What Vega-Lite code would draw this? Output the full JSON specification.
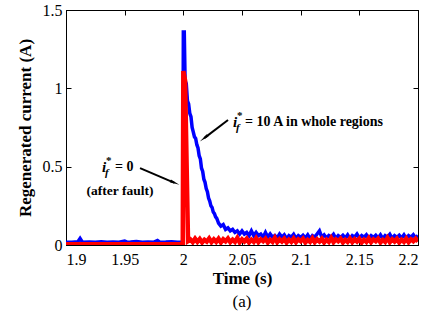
{
  "$schema": "https://vega.github.io/schema/vega-lite/v6.json",
  "width": 352,
  "height": 235,
  "autosize": {"type": "none"},
  "padding": {"left": 66, "top": 10, "right": 14, "bottom": 75},
  "background": "white",
  "title": {"text": "(a)", "orient": "bottom", "font": "Liberation Serif", "fontSize": 17, "fontWeight": "normal", "offset": 8, "color": "black"},
  "config": {
    "view": {"stroke": "black", "strokeWidth": 1},
    "axis": {"grid": false, "domainColor": "black", "tickColor": "black", "labelColor": "black", "titleColor": "black", "labelFont": "Liberation Serif", "titleFont": "Liberation Serif", "labelFontSize": 16, "titleFontSize": 17, "titleFontWeight": "bold", "tickSize": -5, "tickWidth": 1, "domainWidth": 1}
  },
  "datasets": {
    "blue": [
      {"t": 1.9, "v": 0.018}, {"t": 1.905, "v": 0.018}, {"t": 1.91, "v": 0.02}, {"t": 1.912, "v": 0.042}, {"t": 1.914, "v": 0.018},
      {"t": 1.92, "v": 0.019}, {"t": 1.925, "v": 0.018}, {"t": 1.93, "v": 0.02}, {"t": 1.935, "v": 0.018}, {"t": 1.94, "v": 0.019},
      {"t": 1.945, "v": 0.018}, {"t": 1.95, "v": 0.025}, {"t": 1.952, "v": 0.018}, {"t": 1.955, "v": 0.019}, {"t": 1.96, "v": 0.023},
      {"t": 1.965, "v": 0.018}, {"t": 1.97, "v": 0.019}, {"t": 1.975, "v": 0.018}, {"t": 1.978, "v": 0.028}, {"t": 1.98, "v": 0.018},
      {"t": 1.985, "v": 0.019}, {"t": 1.99, "v": 0.021}, {"t": 1.995, "v": 0.018}, {"t": 1.9995, "v": 0.018},
      {"t": 2.0, "v": 1.36}, {"t": 2.0008, "v": 1.36}, {"t": 2.0015, "v": 1.05}, {"t": 2.0025, "v": 1.03}, {"t": 2.0035, "v": 0.92},
      {"t": 2.0045, "v": 0.9}, {"t": 2.0055, "v": 0.84}, {"t": 2.0065, "v": 0.82}, {"t": 2.0075, "v": 0.75}, {"t": 2.0085, "v": 0.72},
      {"t": 2.0095, "v": 0.69}, {"t": 2.0105, "v": 0.68}, {"t": 2.0115, "v": 0.64}, {"t": 2.0125, "v": 0.62}, {"t": 2.0135, "v": 0.57},
      {"t": 2.0145, "v": 0.55}, {"t": 2.0155, "v": 0.49}, {"t": 2.0165, "v": 0.47}, {"t": 2.0175, "v": 0.42}, {"t": 2.0185, "v": 0.4},
      {"t": 2.0195, "v": 0.36}, {"t": 2.0205, "v": 0.34}, {"t": 2.0215, "v": 0.3}, {"t": 2.0225, "v": 0.28}, {"t": 2.0235, "v": 0.25},
      {"t": 2.0245, "v": 0.24}, {"t": 2.0255, "v": 0.21}, {"t": 2.0265, "v": 0.2}, {"t": 2.0275, "v": 0.18}, {"t": 2.0285, "v": 0.17},
      {"t": 2.0295, "v": 0.15}, {"t": 2.03, "v": 0.14}, {"t": 2.032, "v": 0.12}, {"t": 2.034, "v": 0.13}, {"t": 2.036, "v": 0.1},
      {"t": 2.038, "v": 0.11}, {"t": 2.04, "v": 0.09}, {"t": 2.042, "v": 0.1}, {"t": 2.044, "v": 0.08}, {"t": 2.046, "v": 0.09},
      {"t": 2.048, "v": 0.07}, {"t": 2.05, "v": 0.09}, {"t": 2.052, "v": 0.07}, {"t": 2.054, "v": 0.08}, {"t": 2.056, "v": 0.06},
      {"t": 2.058, "v": 0.09}, {"t": 2.06, "v": 0.06}, {"t": 2.062, "v": 0.08}, {"t": 2.064, "v": 0.06}, {"t": 2.066, "v": 0.07},
      {"t": 2.068, "v": 0.05}, {"t": 2.07, "v": 0.08}, {"t": 2.072, "v": 0.05}, {"t": 2.074, "v": 0.07}, {"t": 2.076, "v": 0.05},
      {"t": 2.078, "v": 0.06}, {"t": 2.08, "v": 0.045}, {"t": 2.082, "v": 0.07}, {"t": 2.084, "v": 0.05}, {"t": 2.086, "v": 0.065},
      {"t": 2.088, "v": 0.04}, {"t": 2.09, "v": 0.06}, {"t": 2.092, "v": 0.05}, {"t": 2.094, "v": 0.068}, {"t": 2.096, "v": 0.042},
      {"t": 2.098, "v": 0.06}, {"t": 2.1, "v": 0.048}, {"t": 2.102, "v": 0.062}, {"t": 2.104, "v": 0.045}, {"t": 2.106, "v": 0.065},
      {"t": 2.108, "v": 0.04}, {"t": 2.11, "v": 0.06}, {"t": 2.112, "v": 0.05}, {"t": 2.114, "v": 0.07}, {"t": 2.116, "v": 0.09},
      {"t": 2.118, "v": 0.05}, {"t": 2.12, "v": 0.065}, {"t": 2.122, "v": 0.045}, {"t": 2.124, "v": 0.06}, {"t": 2.126, "v": 0.05},
      {"t": 2.128, "v": 0.068}, {"t": 2.13, "v": 0.042}, {"t": 2.132, "v": 0.06}, {"t": 2.134, "v": 0.048}, {"t": 2.136, "v": 0.062},
      {"t": 2.138, "v": 0.045}, {"t": 2.14, "v": 0.065}, {"t": 2.142, "v": 0.04}, {"t": 2.144, "v": 0.06}, {"t": 2.146, "v": 0.05},
      {"t": 2.148, "v": 0.07}, {"t": 2.15, "v": 0.045}, {"t": 2.152, "v": 0.06}, {"t": 2.154, "v": 0.05}, {"t": 2.156, "v": 0.065},
      {"t": 2.158, "v": 0.042}, {"t": 2.16, "v": 0.06}, {"t": 2.162, "v": 0.048}, {"t": 2.164, "v": 0.062}, {"t": 2.166, "v": 0.045},
      {"t": 2.168, "v": 0.065}, {"t": 2.17, "v": 0.04}, {"t": 2.172, "v": 0.06}, {"t": 2.174, "v": 0.05}, {"t": 2.176, "v": 0.068},
      {"t": 2.178, "v": 0.042}, {"t": 2.18, "v": 0.06}, {"t": 2.182, "v": 0.048}, {"t": 2.184, "v": 0.062}, {"t": 2.186, "v": 0.045},
      {"t": 2.188, "v": 0.065}, {"t": 2.19, "v": 0.04}, {"t": 2.192, "v": 0.06}, {"t": 2.194, "v": 0.05}, {"t": 2.196, "v": 0.066},
      {"t": 2.198, "v": 0.045}, {"t": 2.2, "v": 0.06}
    ],
    "red": [
      {"t": 1.9, "v": 0.004}, {"t": 1.95, "v": 0.004}, {"t": 1.9995, "v": 0.004},
      {"t": 2.0, "v": 1.11}, {"t": 2.0015, "v": 1.05}, {"t": 2.004, "v": 0.025},
      {"t": 2.006, "v": 0.035}, {"t": 2.008, "v": 0.018}, {"t": 2.01, "v": 0.04}, {"t": 2.012, "v": 0.02}, {"t": 2.014, "v": 0.038},
      {"t": 2.016, "v": 0.016}, {"t": 2.018, "v": 0.033}, {"t": 2.02, "v": 0.022}, {"t": 2.022, "v": 0.042}, {"t": 2.024, "v": 0.018},
      {"t": 2.026, "v": 0.036}, {"t": 2.028, "v": 0.02}, {"t": 2.03, "v": 0.04}, {"t": 2.032, "v": 0.016}, {"t": 2.034, "v": 0.037},
      {"t": 2.036, "v": 0.024}, {"t": 2.038, "v": 0.041}, {"t": 2.04, "v": 0.018}, {"t": 2.042, "v": 0.034}, {"t": 2.044, "v": 0.02},
      {"t": 2.046, "v": 0.045}, {"t": 2.048, "v": 0.017}, {"t": 2.05, "v": 0.036}, {"t": 2.052, "v": 0.022}, {"t": 2.054, "v": 0.04},
      {"t": 2.056, "v": 0.016}, {"t": 2.058, "v": 0.034}, {"t": 2.06, "v": 0.02}, {"t": 2.062, "v": 0.043}, {"t": 2.064, "v": 0.018},
      {"t": 2.066, "v": 0.036}, {"t": 2.068, "v": 0.024}, {"t": 2.07, "v": 0.04}, {"t": 2.072, "v": 0.016}, {"t": 2.074, "v": 0.033},
      {"t": 2.076, "v": 0.02}, {"t": 2.078, "v": 0.046}, {"t": 2.08, "v": 0.018}, {"t": 2.082, "v": 0.036}, {"t": 2.084, "v": 0.022},
      {"t": 2.086, "v": 0.04}, {"t": 2.088, "v": 0.016}, {"t": 2.09, "v": 0.034}, {"t": 2.092, "v": 0.02}, {"t": 2.094, "v": 0.041},
      {"t": 2.096, "v": 0.018}, {"t": 2.098, "v": 0.036}, {"t": 2.1, "v": 0.024}, {"t": 2.102, "v": 0.04}, {"t": 2.104, "v": 0.016},
      {"t": 2.106, "v": 0.033}, {"t": 2.108, "v": 0.02}, {"t": 2.11, "v": 0.043}, {"t": 2.112, "v": 0.018}, {"t": 2.114, "v": 0.036},
      {"t": 2.116, "v": 0.022}, {"t": 2.118, "v": 0.04}, {"t": 2.12, "v": 0.016}, {"t": 2.122, "v": 0.034}, {"t": 2.124, "v": 0.02},
      {"t": 2.126, "v": 0.045}, {"t": 2.128, "v": 0.018}, {"t": 2.13, "v": 0.036}, {"t": 2.132, "v": 0.024}, {"t": 2.134, "v": 0.04},
      {"t": 2.136, "v": 0.016}, {"t": 2.138, "v": 0.033}, {"t": 2.14, "v": 0.02}, {"t": 2.142, "v": 0.041}, {"t": 2.144, "v": 0.018},
      {"t": 2.146, "v": 0.036}, {"t": 2.148, "v": 0.022}, {"t": 2.15, "v": 0.04}, {"t": 2.152, "v": 0.016}, {"t": 2.154, "v": 0.034},
      {"t": 2.156, "v": 0.02}, {"t": 2.158, "v": 0.043}, {"t": 2.16, "v": 0.018}, {"t": 2.162, "v": 0.036}, {"t": 2.164, "v": 0.024},
      {"t": 2.166, "v": 0.04}, {"t": 2.168, "v": 0.016}, {"t": 2.17, "v": 0.033}, {"t": 2.172, "v": 0.02}, {"t": 2.174, "v": 0.045},
      {"t": 2.176, "v": 0.018}, {"t": 2.178, "v": 0.036}, {"t": 2.18, "v": 0.022}, {"t": 2.182, "v": 0.04}, {"t": 2.184, "v": 0.016},
      {"t": 2.186, "v": 0.034}, {"t": 2.188, "v": 0.02}, {"t": 2.19, "v": 0.041}, {"t": 2.192, "v": 0.018}, {"t": 2.194, "v": 0.036},
      {"t": 2.196, "v": 0.024}, {"t": 2.198, "v": 0.04}, {"t": 2.2, "v": 0.022}
    ]
  },
  "layer": [
    {
      "data": {"name": "blue"},
      "mark": {"type": "line", "color": "#0000FF", "strokeWidth": 3.5, "clip": true},
      "encoding": {
        "x": {"field": "t", "type": "quantitative", "scale": {"domain": [1.9, 2.2], "nice": false, "zero": false},
              "axis": {"orient": "bottom", "values": [1.9, 1.95, 2, 2.05, 2.1, 2.15, 2.2], "format": "~g", "labelPadding": 11, "title": "Time (s)", "titlePadding": 3}},
        "y": {"field": "v", "type": "quantitative", "scale": {"domain": [0, 1.5], "nice": false},
              "axis": {"orient": "left", "values": [0, 0.5, 1, 1.5], "format": "~g", "labelPadding": 9, "title": "Regenerated current (A)", "titlePadding": 8}}
      }
    },
    {
      "data": {"name": "red"},
      "mark": {"type": "line", "color": "#FF0000", "strokeWidth": 4.5, "clip": true},
      "encoding": {
        "x": {"field": "t", "type": "quantitative", "axis": {"orient": "top", "values": [1.9, 1.95, 2, 2.05, 2.1, 2.15, 2.2], "labels": false, "title": null}},
        "y": {"field": "v", "type": "quantitative", "axis": {"orient": "right", "values": [0, 0.5, 1, 1.5], "labels": false, "title": null}}
      }
    },
    {
      "data": {"values": [{}]},
      "mark": {"type": "rule", "color": "black", "strokeWidth": 2},
      "encoding": {"x": {"datum": 2.0381, "axis": null}, "y": {"datum": 0.798, "axis": null}, "x2": {"datum": 2.0178}, "y2": {"datum": 0.682}}
    },
    {
      "data": {"values": [{}]},
      "mark": {"type": "point", "shape": "wedge", "filled": true, "color": "black", "opacity": 1, "size": 130, "angle": 232},
      "encoding": {"x": {"datum": 2.0185, "axis": null}, "y": {"datum": 0.687, "axis": null}}
    },
    {
      "data": {"values": [{}]},
      "mark": {"type": "rule", "color": "black", "strokeWidth": 2},
      "encoding": {"x": {"datum": 1.9631, "axis": null}, "y": {"datum": 0.491, "axis": null}, "x2": {"datum": 1.9925}, "y2": {"datum": 0.397}}
    },
    {
      "data": {"values": [{}]},
      "mark": {"type": "point", "shape": "wedge", "filled": true, "color": "black", "opacity": 1, "size": 130, "angle": 114},
      "encoding": {"x": {"datum": 1.9915, "axis": null}, "y": {"datum": 0.401, "axis": null}}
    },
    {
      "data": {"values": [{}]},
      "mark": {"type": "text", "text": "i", "font": "Liberation Serif", "fontSize": 15, "fontStyle": "italic", "fontWeight": "bold", "align": "left", "baseline": "middle", "color": "black"},
      "encoding": {"x": {"datum": 2.0423, "axis": null}, "y": {"datum": 0.785, "axis": null}}
    },
    {
      "data": {"values": [{}]},
      "mark": {"type": "text", "text": "*", "font": "Liberation Serif", "fontSize": 11, "fontWeight": "bold", "align": "left", "baseline": "middle", "dx": 4, "dy": -6, "color": "black"},
      "encoding": {"x": {"datum": 2.0423, "axis": null}, "y": {"datum": 0.785, "axis": null}}
    },
    {
      "data": {"values": [{}]},
      "mark": {"type": "text", "text": "f", "font": "Liberation Serif", "fontSize": 11, "fontStyle": "italic", "fontWeight": "bold", "align": "left", "baseline": "middle", "dx": 3, "dy": 6, "color": "black"},
      "encoding": {"x": {"datum": 2.0423, "axis": null}, "y": {"datum": 0.785, "axis": null}}
    },
    {
      "data": {"values": [{}]},
      "mark": {"type": "text", "text": "= 10 A in whole regions", "font": "Liberation Serif", "fontSize": 14, "fontWeight": "bold", "align": "left", "baseline": "middle", "dx": 12, "color": "black"},
      "encoding": {"x": {"datum": 2.0423, "axis": null}, "y": {"datum": 0.785, "axis": null}}
    },
    {
      "data": {"values": [{}]},
      "mark": {"type": "text", "text": "i", "font": "Liberation Serif", "fontSize": 15, "fontStyle": "italic", "fontWeight": "bold", "align": "left", "baseline": "middle", "color": "black"},
      "encoding": {"x": {"datum": 1.9307, "axis": null}, "y": {"datum": 0.498, "axis": null}}
    },
    {
      "data": {"values": [{}]},
      "mark": {"type": "text", "text": "*", "font": "Liberation Serif", "fontSize": 11, "fontWeight": "bold", "align": "left", "baseline": "middle", "dx": 4, "dy": -6, "color": "black"},
      "encoding": {"x": {"datum": 1.9307, "axis": null}, "y": {"datum": 0.498, "axis": null}}
    },
    {
      "data": {"values": [{}]},
      "mark": {"type": "text", "text": "f", "font": "Liberation Serif", "fontSize": 11, "fontStyle": "italic", "fontWeight": "bold", "align": "left", "baseline": "middle", "dx": 3, "dy": 6, "color": "black"},
      "encoding": {"x": {"datum": 1.9307, "axis": null}, "y": {"datum": 0.498, "axis": null}}
    },
    {
      "data": {"values": [{}]},
      "mark": {"type": "text", "text": "= 0", "font": "Liberation Serif", "fontSize": 14, "fontWeight": "bold", "align": "left", "baseline": "middle", "dx": 13, "color": "black"},
      "encoding": {"x": {"datum": 1.9307, "axis": null}, "y": {"datum": 0.498, "axis": null}}
    },
    {
      "data": {"values": [{}]},
      "mark": {"type": "text", "text": "(after fault)", "font": "Liberation Serif", "fontSize": 13.5, "fontWeight": "bold", "align": "center", "baseline": "middle", "color": "black"},
      "encoding": {"x": {"datum": 1.946, "axis": null}, "y": {"datum": 0.345, "axis": null}}
    }
  ],
  "resolve": {"axis": {"x": "independent", "y": "independent"}}
}
